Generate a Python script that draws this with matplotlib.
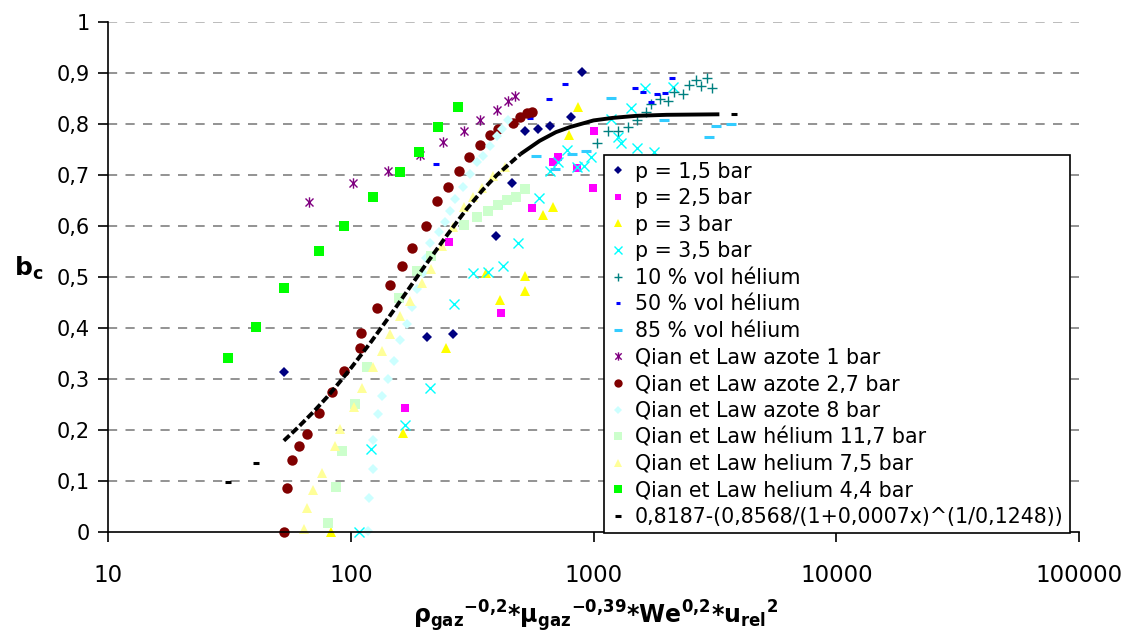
import numpy as np
import matplotlib.pyplot as plt
from matplotlib.path import Path
from matplotlib.lines import Line2D

plt.rcParams['font.family'] = 'DejaVu Sans'
plt.rcParams['mathtext.default'] = 'bf'

# --- data ---
p15_x = [53, 207, 263, 395, 460, 520, 589, 659, 811, 893]
p15_y = [0.314, 0.382, 0.388, 0.580, 0.684, 0.786, 0.790, 0.796, 0.814, 0.902]

p25_x = [167, 255, 414, 556, 678, 711, 851, 991, 1009]
p25_y = [0.243, 0.569, 0.429, 0.635, 0.725, 0.735, 0.714, 0.674, 0.786]

p3_x = [83, 164, 246, 359, 410, 520, 520, 617, 678, 796, 867]
p3_y = [0.0, 0.194, 0.361, 0.507, 0.455, 0.473, 0.502, 0.621, 0.637, 0.778, 0.833]

p35_x = [108, 121, 167, 213, 265, 318, 366, 423, 487, 599, 659, 711, 781, 851,
         910, 972, 1186, 1256, 1304, 1433, 1504, 1622, 1782, 2134]
p35_y = [0.0, 0.163, 0.210, 0.282, 0.447, 0.508, 0.510, 0.522, 0.567, 0.655, 0.708,
         0.725, 0.749, 0.716, 0.718, 0.735, 0.810, 0.775, 0.763, 0.831, 0.753,
         0.871, 0.745, 0.873]

he10_x = [1038, 1142, 1256, 1381, 1504, 1653, 1733, 1870, 2018, 2155, 2346, 2483,
          2654, 2782, 2944, 3089]
he10_y = [0.763, 0.786, 0.786, 0.794, 0.808, 0.824, 0.839, 0.849, 0.845, 0.863,
          0.859, 0.876, 0.886, 0.875, 0.890, 0.871]

he50_x = [224, 546, 653, 760, 1476, 1592, 1733, 1834, 1978, 2115]
he50_y = [0.722, 0.812, 0.849, 0.878, 0.871, 0.863, 0.843, 0.859, 0.861, 0.890]

he85_x = [577, 692, 812, 935, 1186, 1959, 3000, 3206, 3698]
he85_y = [0.737, 0.712, 0.741, 0.747, 0.851, 0.808, 0.775, 0.796, 0.800]

qa1_x = [67.1, 102, 143, 192, 239, 292, 340, 399, 443, 473]
qa1_y = [0.647, 0.684, 0.708, 0.739, 0.765, 0.786, 0.808, 0.827, 0.845, 0.855]

qa27_x = [53.0, 54.5, 57.2, 61.1, 65.9, 73.9, 83.5, 93.6, 109, 110, 128, 145, 162,
          178, 204, 226, 251, 278, 306, 340, 373, 406, 464, 496, 530, 556]
qa27_y = [0.0, 0.086, 0.141, 0.169, 0.192, 0.233, 0.275, 0.316, 0.361, 0.390, 0.439,
          0.484, 0.522, 0.557, 0.600, 0.649, 0.676, 0.708, 0.735, 0.759, 0.778,
          0.790, 0.802, 0.814, 0.822, 0.824]

qa8_x = [117.5, 119, 123, 124, 130, 134, 142, 150, 159, 170, 178, 187, 198, 205,
         213, 232, 244, 256, 268, 289, 309, 330, 349, 373, 399, 418, 443]
qa8_y = [0.002, 0.067, 0.124, 0.180, 0.231, 0.267, 0.300, 0.335, 0.376, 0.408,
         0.441, 0.476, 0.508, 0.537, 0.567, 0.588, 0.608, 0.629, 0.653, 0.676,
         0.702, 0.725, 0.737, 0.757, 0.776, 0.790, 0.808]

qh117_x = [80.4, 86.7, 91.8, 104, 117, 158, 187, 215, 294, 330, 366, 403, 439, 478, 520]
qh117_y = [0.018, 0.088, 0.159, 0.251, 0.324, 0.459, 0.512, 0.541, 0.602, 0.618,
           0.629, 0.641, 0.651, 0.657, 0.673]

qh75_x = [64.2, 65.9, 69.8, 76.0, 86.0, 90.1, 103, 111, 123, 134, 145, 159, 175,
          196, 215, 237, 263, 294, 318, 346, 384, 430]
qh75_y = [0.006, 0.047, 0.082, 0.116, 0.169, 0.202, 0.245, 0.282, 0.324, 0.355,
          0.388, 0.424, 0.453, 0.488, 0.516, 0.561, 0.598, 0.637, 0.657, 0.675,
          0.698, 0.716]

qh44_x = [31.2, 40.6, 53.0, 73.8, 93.5, 123, 159, 191, 228, 276]
qh44_y = [0.341, 0.402, 0.478, 0.551, 0.600, 0.657, 0.706, 0.745, 0.794, 0.833]

# fitted curve as drawn (dense part) plus the isolated dashes
fit_x = [53, 60, 70, 80, 90, 100, 120, 140, 160, 180, 200, 250, 300, 350, 400, 500,
         600, 700, 800, 1000, 1200, 1500, 2000, 3300]
fit_y = [0.179, 0.203, 0.235, 0.265, 0.294, 0.321, 0.370, 0.414, 0.453, 0.488,
         0.519, 0.583, 0.633, 0.671, 0.700, 0.741, 0.767, 0.784, 0.794, 0.807,
         0.812, 0.816, 0.818, 0.819]
fit_pts_x = [31.2, 40.6, 3800]
fit_pts_y = [0.098, 0.135, 0.819]

labels = ['p = 1,5 bar', 'p = 2,5 bar', 'p = 3 bar', 'p = 3,5 bar',
          '10 % vol hélium', '50 % vol hélium', '85 % vol hélium',
          'Qian et Law azote 1 bar', 'Qian et Law azote 2,7 bar',
          'Qian et Law azote 8 bar', 'Qian et Law hélium 11,7 bar',
          'Qian et Law helium 7,5 bar', 'Qian et Law helium 4,4 bar',
          '0,8187-(0,8568/(1+0,0007x)^(1/0,1248))']

star = Path([(-1, -1), (1, 1), (-1, 1), (1, -1), (0, -1.3), (0, 1.3)],
            [Path.MOVETO, Path.LINETO, Path.MOVETO, Path.LINETO, Path.MOVETO, Path.LINETO])

# (x, y, marker, color, size, edge width)
series = [
    (p15_x, p15_y, 'D', '#000080', 4.8, 0),
    (p25_x, p25_y, 's', '#FF00FF', 6.2, 0),
    (p3_x, p3_y, '^', '#FFFF00', 7.9, 0),
    (p35_x, p35_y, 'x', '#00FFFF', 7.2, 1.0),
    (he10_x, he10_y, '+', '#008080', 7.5, 1.0),
    (he50_x, he50_y, '_', '#0000FF', 4.3, 2.2),
    (he85_x, he85_y, '_', '#33CCFF', 7.2, 2.2),
    (qa1_x, qa1_y, star, '#800080', 7.5, 1.0),
    (qa27_x, qa27_y, 'o', '#800000', 7.5, 0),
    (qa8_x, qa8_y, 'D', '#CCFFFF', 5.2, 0),
    (qh117_x, qh117_y, 's', '#CCFFCC', 6.8, 0),
    (qh75_x, qh75_y, '^', '#FFFF99', 7.8, 0),
    (qh44_x, qh44_y, 's', '#00FF00', 6.5, 0),
]

fig = plt.figure(figsize=(11.29, 6.34), dpi=100)
ax = fig.add_axes([0.0957, 0.1609, 0.8600, 0.8044])

handles = []
for x, y, m, c, s, w in series:
    line_only = m in ('x', '+', '_') or isinstance(m, Path)
    ax.plot(x, y, linestyle='none', marker=m, markersize=s, color=c,
            markeredgewidth=w if line_only else 0,
            markerfacecolor='none' if line_only else c, clip_on=False)
    handles.append(Line2D([], [], linestyle='none', marker=m, markersize=s * 0.8,
                          color=c, markeredgewidth=w if line_only else 0,
                          markerfacecolor='none' if line_only else c))

# fit curve
fx = np.array(fit_x)
fy = np.array(fit_y)
ax.plot(fx[fx <= 500], fy[fx <= 500], color='black', lw=2.8, dashes=(2.0, 0.8), zorder=5)
ax.plot(fx[fx >= 500], fy[fx >= 500], color='black', lw=2.8, solid_capstyle='butt', zorder=5)
ax.plot(fit_pts_x, fit_pts_y, linestyle='none', marker='_', markersize=4.5,
        markeredgewidth=2.2, color='black', zorder=5)
handles.append(Line2D([], [], linestyle='none', marker='_', markersize=4,
                      markeredgewidth=2.2, color='black'))

ax.set_xscale('log')
ax.set_xlim(10, 100000)
ax.set_ylim(0, 1)

yt = [0, 0.1, 0.2, 0.3, 0.4, 0.5, 0.6, 0.7, 0.8, 0.9, 1.0]
ax.set_yticks(yt)
ax.set_yticklabels(['0', '0,1', '0,2', '0,3', '0,4', '0,5', '0,6', '0,7', '0,8', '0,9', '1'])
xt = [10, 100, 1000, 10000, 100000]
ax.set_xticks(xt)
ax.set_xticklabels(['10', '100', '1000', '10000', '100000'])
ax.xaxis.set_minor_locator(plt.NullLocator())
ax.tick_params(axis='y', labelsize=15, length=7, width=1.2, direction='out', pad=6)
ax.tick_params(axis='x', labelsize=16.5, length=7, width=1.2, direction='out', pad=16)

for v in yt[1:-1]:
    ax.axhline(v, color='#808080', lw=1.2, dashes=(5.5, 5), zorder=0)
ax.axhline(1.0, color='#B0B0B0', lw=1.2, dashes=(5.5, 5), zorder=0)

for s in ['top', 'right']:
    ax.spines[s].set_visible(False)
for s in ['left', 'bottom']:
    ax.spines[s].set_linewidth(1.2)

ax.set_ylabel(r'$b_c$', fontsize=18, rotation=0, fontweight='bold')
ax.yaxis.set_label_coords(-0.082, 0.49)
ax.set_xlabel(r'$ρ_{gaz}{}^{-0{,}2}$*$μ_{gaz}{}^{-0{,}39}$*$We^{0{,}2}$*$u_{rel}{}^{2}$',
              fontsize=17, fontweight='bold')
ax.xaxis.set_label_coords(0.5026, -0.13)

leg = fig.legend(handles, labels, loc='lower left', bbox_to_anchor=(0.535, 0.159),
                 fontsize=14.8, frameon=True, fancybox=False, borderpad=0.3,
                 labelspacing=0.32, handlelength=0.8, handletextpad=0.4,
                 borderaxespad=0, framealpha=1)
leg.get_frame().set_edgecolor('black')
leg.get_frame().set_linewidth(1.2)

plt.savefig('out.png', dpi=100)
